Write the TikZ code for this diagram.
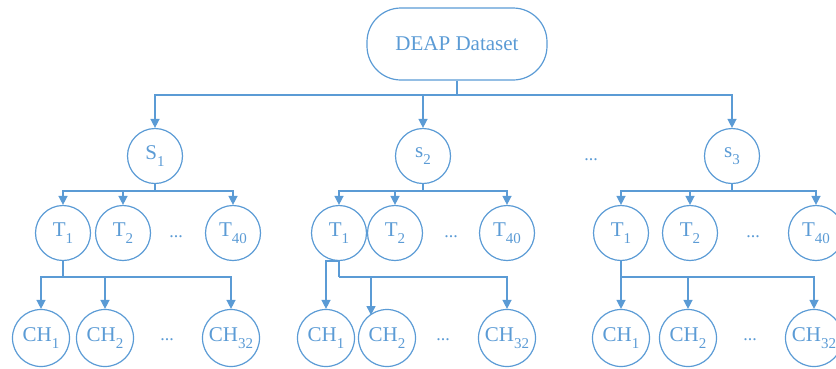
\documentclass[tikz,border=0pt]{standalone}
\usepackage{fontspec}
\setmainfont{Liberation Serif}
\usetikzlibrary{arrows.meta}
\definecolor{bl}{HTML}{5B9BD5}
\newcommand{\lo}[1]{\raisebox{-0.32em}{\fontsize{15}{15}\selectfont #1}}
\begin{document}
\begin{tikzpicture}[x=1pt,y=-1pt,
  circ/.style={circle,draw=bl,line width=1.2pt,minimum size=55pt,inner sep=0pt,text=bl,font=\fontsize{21}{24}\selectfont},
  chc/.style={circ,minimum size=57pt},
  ln/.style={draw=bl,line width=1.4pt},
  arr/.style={ln,-{Triangle[width=9pt,length=9pt]}},
  dots/.style={text=bl,font=\fontsize{18}{20}\selectfont}]
\useasboundingbox (0,0) rectangle (836,368);
% root
\node[draw=bl,line width=1.2pt,rounded corners=34pt,minimum width=180pt,minimum height=72pt,text=bl,font=\fontsize{21}{24}\selectfont] (deap) at (457,44) {DEAP Dataset};
% subjects
\node[circ] (S1) at (155,156) {S\lo{1}};
\node[circ] (S2) at (423,156) {s\lo{2}};
\node[circ] (S3) at (732,156) {s\lo{3}};
\node[dots] (sd) at (591,160) {...};
% group 1
\node[circ] (T1a) at (63,233) {T\lo{1}};
\node[circ] (T2a) at (123,233) {T\lo{2}};
\node[circ] (T40a) at (233,233) {T\lo{40}};
\node[dots] (tda) at (176,237) {...};
\node[chc] (CH1a) at (41,338) {CH\lo{1}};
\node[chc] (CH2a) at (105,338) {CH\lo{2}};
\node[chc] (CH32a) at (231,338) {CH\lo{32}};
\node[dots] (cda) at (167,340) {...};
% group 2
\node[circ] (T1b) at (339,233) {T\lo{1}};
\node[circ] (T2b) at (395,233) {T\lo{2}};
\node[circ] (T40b) at (507,233) {T\lo{40}};
\node[dots] (tdb) at (451,237) {...};
\node[chc] (CH1b) at (326,338) {CH\lo{1}};
\node[chc] (CH2b) at (387,338) {CH\lo{2}};
\node[chc] (CH32b) at (507,338) {CH\lo{32}};
\node[dots] (cdb) at (443,340) {...};
% group 3
\node[circ] (T1c) at (621,233) {T\lo{1}};
\node[circ] (T2c) at (690,233) {T\lo{2}};
\node[circ] (T40c) at (816,233) {T\lo{40}};
\node[dots] (tdc) at (753,237) {...};
\node[chc] (CH1c) at (621,338) {CH\lo{1}};
\node[chc] (CH2c) at (688,338) {CH\lo{2}};
\node[chc] (CH32c) at (814,338) {CH\lo{32}};
\node[dots] (cdc) at (750,340) {...};
% root connectors
\coordinate (h0) at (457,95);
\draw[ln] (deap) -- (h0);
\draw[arr] (h0) -| (S1);
\draw[arr] (h0) -| (S2);
\draw[arr] (h0) -| (S3);
% group 1 connectors
\coordinate (ja) at (155,191);
\draw[ln] (S1) -- (ja);
\draw[arr] (ja) -| (T1a);
\draw[arr] (ja) -| (T2a);
\draw[arr] (ja) -| (T40a);
\coordinate (ka) at (63,277);
\draw[ln] (T1a) -- (ka);
\draw[arr] (ka) -| (CH1a);
\draw[arr] (ka) -| (CH2a);
\draw[arr] (ka) -| (CH32a);
% group 2 connectors
\coordinate (jb) at (423,191);
\draw[ln] (S2) -- (jb);
\draw[arr] (jb) -| (T1b);
\draw[arr] (jb) -| (T2b);
\draw[arr] (jb) -| (T40b);
\draw[arr] (T1b.south) -| (CH1b);
\coordinate (kb) at (339,277);
\coordinate (cb2) at (371,315);
\draw[ln] (T1b) -- (kb);
\draw[arr] (kb) -| (cb2);
\draw[arr] (kb) -| (CH32b);
% group 3 connectors
\coordinate (jc) at (732,191);
\draw[ln] (S3) -- (jc);
\draw[arr] (jc) -| (T1c);
\draw[arr] (jc) -| (T2c);
\draw[arr] (jc) -| (T40c);
\coordinate (kc) at (621,277);
\draw[ln] (T1c) -- (kc);
\draw[arr] (kc) -- (CH1c);
\draw[arr] (kc) -| (CH2c);
\draw[arr] (kc) -| (CH32c);
\end{tikzpicture}
\end{document}
